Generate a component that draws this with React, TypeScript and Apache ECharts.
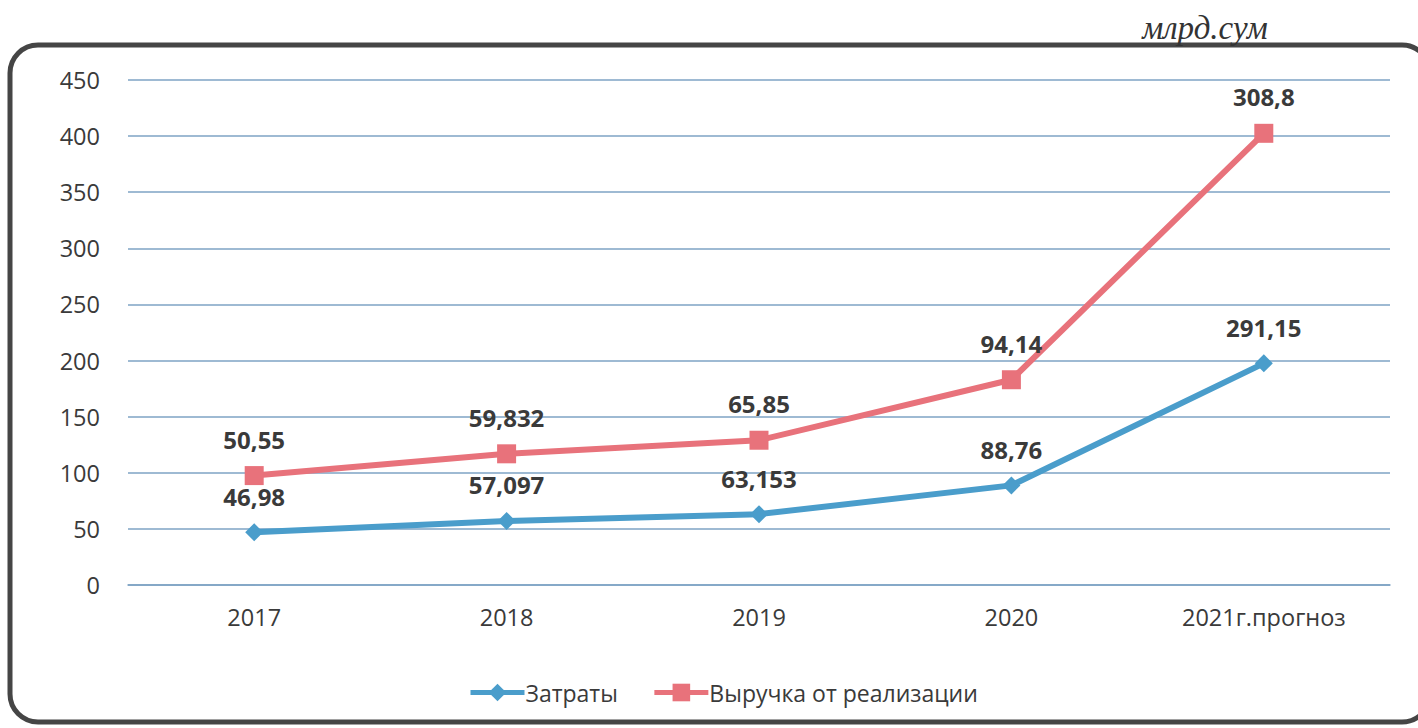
import React, { useEffect, useRef } from "react";
import * as echarts from "echarts";

const categories = ["2017", "2018", "2019", "2020", "2021г.прогноз"];
const costValues = [46.98, 57.097, 63.153, 88.76, 197.5];
const costLabels = ["46,98", "57,097", "63,153", "88,76", "291,15"];
const revenueValues = [97.5, 116.9, 129.0, 182.9, 402.5];
const revenueLabels = ["50,55", "59,832", "65,85", "94,14", "308,8"];
const seriesNames = ["Затраты", "Выручка от реализации"];
const unitText = "млрд.сум";

const FONT = "'Open Sans', 'DejaVu Sans', sans-serif";
const TEXT = "#3a3a3a";
const BLUE = "#4a9dcb";
const RED = "#e8727b";

export default function App() {
  const ref = useRef<HTMLDivElement>(null);
  useEffect(() => {
    if (!ref.current) return;
    const chart = echarts.init(ref.current, null, { renderer: "svg" });
    chart.setOption({
      animation: false,
      backgroundColor: "#ffffff",
      grid: { left: 128, right: 28, top: 80, bottom: 143 },
      legend: {
        left: 463,
        top: 676,
        itemWidth: 54,
        itemHeight: 22,
        itemGap: 34,
        lineStyle: { width: 5 },
        textStyle: { fontFamily: FONT, fontSize: 23, color: TEXT, padding: [0, 0, 0, -4] },
        data: seriesNames,
      },
      xAxis: {
        type: "category",
        data: categories,
        boundaryGap: true,
        axisLine: { show: true, lineStyle: { color: "#7ea3c4", width: 1.5 } },
        axisTick: { show: false },
        axisLabel: { fontFamily: FONT, fontSize: 23.5, color: TEXT, margin: 20 },
      },
      yAxis: {
        type: "value",
        min: 0,
        max: 450,
        interval: 50,
        axisLine: { show: false },
        axisTick: { show: false },
        splitLine: { lineStyle: { color: "#7ea3c4", width: 1.5 } },
        axisLabel: { fontFamily: FONT, fontSize: 23.5, color: TEXT, margin: 28 },
      },
      graphic: [
        {
          type: "rect",
          shape: { x: 10, y: 45, width: 1420, height: 677, r: 28 },
          style: { fill: "none", stroke: "#454545", lineWidth: 5 },
          silent: true,
        },
        {
          type: "text",
          x: 1205,
          y: 28,
          style: {
            text: unitText,
            font: "italic 33px 'Liberation Serif', 'DejaVu Serif', serif",
            fill: "#333333",
            align: "center",
            verticalAlign: "middle",
          },
        },
      ],
      series: [
        {
          name: seriesNames[0],
          type: "line",
          data: costValues,
          symbol: "diamond",
          symbolSize: 18,
          itemStyle: { color: BLUE },
          lineStyle: { color: BLUE, width: 6 },
          label: {
            show: true,
            position: "top",
            distance: 15,
            fontFamily: FONT,
            fontWeight: "bold",
            fontSize: 24,
            color: TEXT,
            formatter: (p: any) => costLabels[p.dataIndex],
          },
          z: 3,
        },
        {
          name: seriesNames[1],
          type: "line",
          data: revenueValues,
          symbol: "rect",
          symbolSize: 19,
          itemStyle: { color: RED },
          lineStyle: { color: RED, width: 6 },
          label: {
            show: true,
            position: "top",
            distance: 15,
            fontFamily: FONT,
            fontWeight: "bold",
            fontSize: 24,
            color: TEXT,
            formatter: (p: any) => revenueLabels[p.dataIndex],
          },
          z: 3,
        },
      ],
    });
    return () => chart.dispose();
  }, []);
  return (
    <div
      ref={ref}
      style={{ position: "fixed", left: 0, top: 0, width: 1418, height: 728 }}
    />
  );
}
